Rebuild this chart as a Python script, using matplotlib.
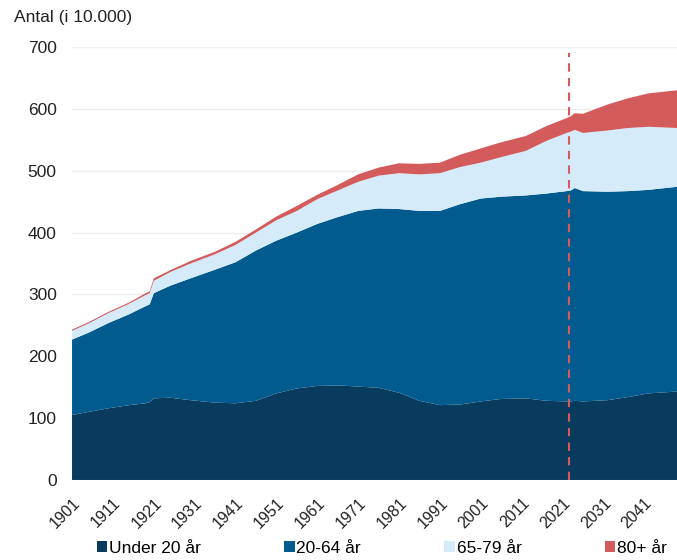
import matplotlib.pyplot as plt
from matplotlib.patches import Patch

plt.rcParams['font.family'] = ['Liberation Sans', 'DejaVu Sans']

# years and cumulative tops (in 10.000 persons)
years = [1901, 1905, 1910, 1915, 1919, 1920, 1921, 1925, 1930, 1936, 1941, 1946,
         1951, 1956, 1961, 1966, 1971, 1976, 1981, 1986, 1991, 1996, 2001, 2006,
         2012, 2017, 2022, 2023, 2024, 2026, 2032, 2037, 2042, 2049]
top_u20 = [105, 110, 116, 121, 124, 126, 132, 133, 129, 125, 124, 128,
           140, 148, 152, 153, 151, 149, 141, 128, 121, 122, 127, 131,
           132, 128, 127, 127, 128, 127, 129, 134, 140, 143]
top_2064 = [227, 238, 254, 268, 281, 284, 302, 314, 326, 340, 352, 371,
            387, 400, 414, 425, 435, 439, 438, 435, 435, 446, 455, 458,
            460, 463, 467, 468, 472, 467, 466, 467, 469, 474]
top_6579 = [241, 253, 270, 285, 299, 302, 322, 336, 350, 365, 380, 400,
            420, 435, 454, 468, 482, 492, 496, 494, 496, 506, 513, 522,
            532, 548, 561, 563, 566, 561, 565, 569, 571, 569]
top_80 = [243, 255, 272, 287, 302, 305, 326, 339, 354, 369, 385, 405,
          426, 443, 461, 477, 494, 505, 512, 511, 513, 526, 536, 546,
          556, 572, 585, 588, 593, 592, 607, 617, 625, 630]

labels = ['Under 20 år', '20-64 år', '65-79 år', '80+ år']
colors = ['#083b5e', '#025b8e', '#d6ebf9', '#d35b5b']
tick_years = list(range(1901, 2042, 10))
projection_start = 2022.6

# layer sizes from cumulative tops
u20 = top_u20
a2064 = [b - a for a, b in zip(top_u20, top_2064)]
a6579 = [b - a for a, b in zip(top_2064, top_6579)]
a80 = [b - a for a, b in zip(top_6579, top_80)]

fig = plt.figure(figsize=(6.77, 5.6), dpi=100)
ax = fig.add_axes([0.1064, 0.1429, 0.8936, 0.7732])

ax.stackplot(years, u20, a2064, a6579, a80, colors=colors, linewidth=0, zorder=2)
ax.axvline(projection_start, ymin=0, ymax=0.985, color='#d35b5b',
           linestyle=(0, (4, 3)), linewidth=1.5, zorder=3)

ax.set_xlim(1901, 2049)
ax.set_ylim(0, 700)
ax.set_yticks(range(0, 701, 100))
ax.grid(axis='y', color='#eeeeee', linewidth=1, zorder=0)
ax.set_xticks(tick_years)
ax.set_xticklabels([str(y) for y in tick_years], rotation=45, ha='right',
                   rotation_mode='anchor', fontsize=11.5, color='#222222')
ax.tick_params(axis='y', length=0, pad=11, labelsize=12.5, labelcolor='#222222')
ax.tick_params(axis='x', length=0, pad=11)
for s in ax.spines.values():
    s.set_visible(False)

fig.text(0.02, 0.968, 'Antal (i 10.000)', fontsize=12.5, color='#222222',
         ha='left', va='center')

handles = [Patch(facecolor=c, edgecolor='none') for c in colors]
fig.legend(handles, labels, loc='center left', bbox_to_anchor=(0.133, 0.021),
           ncol=4, frameon=False, fontsize=12.5, handlelength=0.6,
           handleheight=0.6, handletextpad=0.1, columnspacing=4.8,
           borderaxespad=0)

fig.savefig('out.png', dpi=100)
